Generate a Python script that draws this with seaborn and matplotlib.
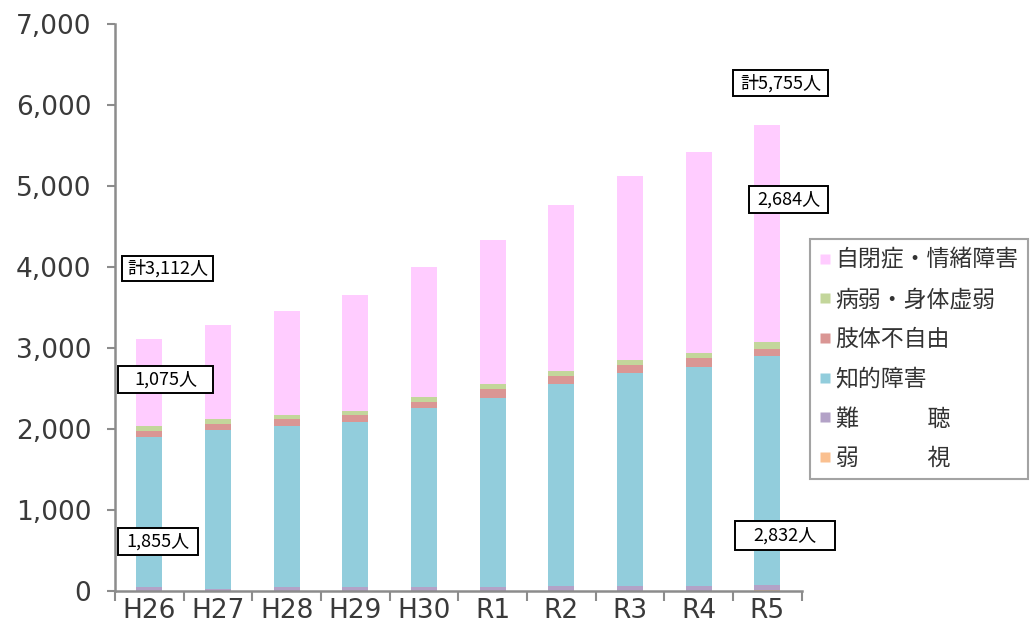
import numpy as np
import pandas as pd
import seaborn as sns
import matplotlib
matplotlib.use("Agg")
import matplotlib.pyplot as plt
from matplotlib.lines import Line2D
from matplotlib.patches import Rectangle
from matplotlib.ticker import FuncFormatter, MultipleLocator, FixedLocator

sns.set_theme(style="white")
plt.rcParams['font.family'] = ['Noto Sans CJK JP', 'DejaVu Sans']

years = ["H26", "H27", "H28", "H29", "H30", "R1", "R2", "R3", "R4", "R5"]
weak_sight = [5, 4, 5, 5, 5, 5, 6, 6, 6, 7]
hearing = [45, 26, 50, 50, 50, 50, 54, 54, 58, 62]
intellectual = [1855, 1958, 1982, 2035, 2200, 2331, 2492, 2628, 2705, 2832]
physical = [74, 74, 82, 82, 74, 111, 106, 106, 111, 86]
health = [58, 58, 53, 53, 62, 54, 58, 58, 54, 84]
autism = [1075, 1164, 1287, 1427, 1613, 1781, 2049, 2271, 2481, 2684]

series_names = ["弱　　　視", "難　　　聴", "知的障害", "肢体不自由", "病弱・身体虚弱", "自閉症・情緒障害"]
series_vals = [weak_sight, hearing, intellectual, physical, health, autism]
colors = ["#FAC090", "#B3A2C7", "#92CDDC", "#DA9694", "#C3D69B", "#FFCCFF"]

cum = np.zeros(len(years))
cums = []
for v in series_vals:
    cum = cum + np.array(v)
    cums.append(cum.copy())

W, H = 1031, 630
fig = plt.figure(figsize=(W / 100, H / 100), dpi=100)
ax = fig.add_axes([0.1115, 0.0619, 0.666, 0.9])

# draw from top-most cumulative down so lower layers overlay
for name, c, col in reversed(list(zip(series_names, cums, colors))):
    d = pd.DataFrame({"year": years, "val": c})
    sns.barplot(data=d, x="year", y="val", color=col, width=0.38,
                saturation=1, ax=ax, linewidth=0)

ax.set_ylim(0, 7000)
ax.set_xlim(-0.5, len(years) - 0.5)
ax.yaxis.set_major_locator(MultipleLocator(1000))
ax.yaxis.set_major_formatter(FuncFormatter(lambda v, p: f"{int(v):,}"))
ax.set_xlabel("")
ax.set_ylabel("")

for s in ["top", "right"]:
    ax.spines[s].set_visible(False)
for s in ["left", "bottom"]:
    ax.spines[s].set_color("#8C8C8C")
    ax.spines[s].set_linewidth(1.8)

ax.tick_params(axis="y", which="major", left=True, length=6, width=1.5,
               color="#8C8C8C", labelsize=19, labelcolor="#3A3A3A", pad=11)
ax.tick_params(axis="x", which="major", bottom=False, length=0,
               labelsize=19, labelcolor="#3A3A3A", pad=5)
for lab in ax.get_yticklabels() + ax.get_xticklabels():
    lab.set_family("DejaVu Sans")
ax.xaxis.set_minor_locator(FixedLocator(np.arange(-0.5, len(years), 1.0)))
ax.tick_params(axis="x", which="minor", bottom=True, length=7, width=1.5,
               color="#8C8C8C", direction="out")

# annotation boxes (pixel layout: x0, x1, y0, y1 from top-left)
total_first = int(cums[-1][0])
total_last = int(cums[-1][-1])
ann = [
    (f"計{total_first:,}人", (122, 213, 256, 281)),
    (f"{autism[0]:,}人", (118, 213, 366, 393)),
    (f"{intellectual[0]:,}人", (118, 198, 528, 555)),
    (f"計{total_last:,}人", (733, 828, 70, 96)),
    (f"{autism[-1]:,}人", (749, 828, 186, 213)),
    (f"{intellectual[-1]:,}人", (735, 835, 521, 550)),
]
for txt, (x0, x1, y0, y1) in ann:
    fig.add_artist(Rectangle((x0 / W, 1 - y1 / H), (x1 - x0) / W, (y1 - y0) / H,
                             transform=fig.transFigure, fc="white",
                             ec="black", lw=1.4, zorder=5))
    fig.text((x0 + x1) / 2 / W, 1 - (y0 + y1) / 2 / H, txt, ha="center",
             va="center", fontsize=13, color="black", zorder=6)

handles = [Line2D([0], [0], marker="s", linestyle="none", markersize=7.5,
                  markerfacecolor=col, markeredgecolor="none")
           for col in colors]
leg = fig.legend(handles[::-1], series_names[::-1], loc="upper left",
                 bbox_to_anchor=(0.786, 0.62), frameon=True, fancybox=False,
                 fontsize=16.5, handlelength=0.5, handletextpad=0.2,
                 labelspacing=0.73, borderpad=0.4, borderaxespad=0)
leg.get_frame().set_edgecolor("#8C8C8C")
leg.get_frame().set_linewidth(1.5)
for t in leg.get_texts():
    t.set_color("#333333")

fig.savefig("out.png", dpi=100)
